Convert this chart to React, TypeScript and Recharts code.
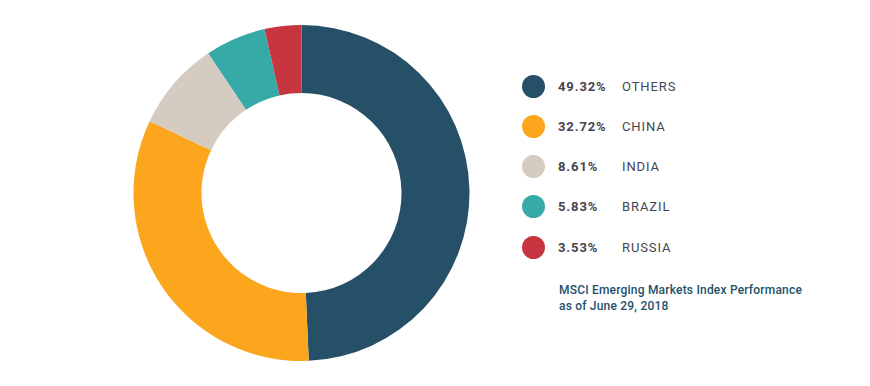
import React from "react";
import { PieChart, Pie, Cell, Legend } from "recharts";

const categories = ["OTHERS", "CHINA", "INDIA", "BRAZIL", "RUSSIA"];
const values = [49.32, 32.72, 8.61, 5.83, 3.53];
const colors = ["#264f68", "#fba61c", "#d6cbc1", "#36aaa7", "#c63540"];
const noteLines = ["MSCI Emerging Markets Index Performance", "as of June 29, 2018"];

const data = categories.map((name, i) => ({ name, value: values[i], color: colors[i] }));

const renderLegend = () => (
  <div style={{ fontFamily: "Roboto, sans-serif" }}>
    {data.map((d) => (
      <div key={d.name} style={{ display: "flex", alignItems: "center", height: 40.25 }}>
        <div style={{ width: 23, height: 23, borderRadius: "50%", background: d.color, marginRight: 13 }} />
        <div style={{ width: 64, fontWeight: 700, fontSize: 13, color: "#45454d", letterSpacing: 0.9 }}>
          {d.value.toFixed(2)}%
        </div>
        <div style={{ fontSize: 13, color: "#45454d", letterSpacing: 0.9 }}>{d.name}</div>
      </div>
    ))}
    <div style={{ marginTop: 15, marginLeft: 37, fontSize: 12, fontWeight: 500, color: "#24506b", lineHeight: "16px", letterSpacing: 0.2 }}>
      {noteLines.map((l) => (
        <div key={l}>{l}</div>
      ))}
    </div>
  </div>
);

export default function App() {
  return (
    <div style={{ position: "absolute", left: 0, top: 0, background: "#fff" }}>
      <PieChart width={870} height={386} margin={{ top: 0, right: 0, bottom: 0, left: 0 }}>
        <Pie
          data={data}
          dataKey="value"
          nameKey="name"
          cx={301.5}
          cy={193}
          innerRadius={100}
          outerRadius={168}
          startAngle={90}
          endAngle={-270}
          stroke="none"
          isAnimationActive={false}
        >
          {data.map((d) => (
            <Cell key={d.name} fill={d.color} />
          ))}
        </Pie>
        <Legend
          content={renderLegend}
          layout="vertical"
          wrapperStyle={{ position: "absolute", left: 522, top: 66, width: 320 }}
        />
      </PieChart>
    </div>
  );
}
